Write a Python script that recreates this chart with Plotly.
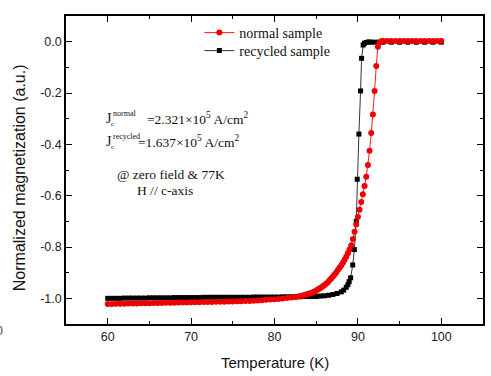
import plotly.graph_objects as go

# ---- data: normalized magnetization vs temperature ----
normal_T = [
    60.0, 60.5, 61.0, 61.5, 62.0, 62.5, 63.0, 63.5, 64.0, 64.5,
    65.0, 65.5, 66.0, 66.5, 67.0, 67.5, 68.0, 68.5, 69.0, 69.5,
    70.0, 70.5, 71.0, 71.5, 72.0, 72.5, 73.0, 73.5, 74.0, 74.5,
    75.0, 75.5, 76.0, 76.5, 77.0, 77.5, 78.0, 78.5, 79.0, 79.5,
    80.0, 80.5, 81.0, 81.5, 82.0, 82.5, 83.0,
    83.2, 83.4, 83.6, 83.8, 84.0, 84.2, 84.4, 84.6, 84.8, 85.0,
    85.2, 85.4, 85.6, 85.8, 86.0, 86.2, 86.4, 86.6, 86.8, 87.0,
    87.2, 87.4, 87.6, 87.8, 88.0, 88.2, 88.4, 88.6, 88.8, 89.0,
    89.2, 89.4, 89.6, 89.8, 90.0, 90.2, 90.4, 90.6, 90.8, 91.0,
    91.2, 91.4, 91.6, 91.8, 92.0, 92.2, 92.4, 92.6, 92.8,
    93.0, 93.5, 94.0, 94.5, 95.0, 95.5, 96.0, 96.5, 97.0, 97.5,
    98.0, 98.5, 99.0, 99.5, 100.0,
]
normal_M = [
    -1.022, -1.022, -1.021, -1.021, -1.021, -1.020, -1.020, -1.020, -1.019, -1.019,
    -1.019, -1.018, -1.018, -1.018, -1.017, -1.017, -1.017, -1.016, -1.016, -1.016,
    -1.015, -1.015, -1.015, -1.014, -1.014, -1.014, -1.013, -1.013, -1.013, -1.012,
    -1.012, -1.011, -1.011, -1.010, -1.010, -1.009, -1.008, -1.007, -1.006, -1.005,
    -1.004, -1.003, -1.001, -0.999, -0.997, -0.995, -0.992,
    -0.991, -0.989, -0.987, -0.985, -0.983, -0.981, -0.979, -0.976, -0.973, -0.970,
    -0.966, -0.962, -0.958, -0.953, -0.948, -0.943, -0.937, -0.930, -0.923, -0.915,
    -0.907, -0.899, -0.890, -0.881, -0.872, -0.861, -0.850, -0.838, -0.824, -0.810,
    -0.793, -0.769, -0.741, -0.712, -0.683, -0.655, -0.625, -0.594, -0.562, -0.526,
    -0.481, -0.425, -0.356, -0.284, -0.192, -0.095, -0.020, -0.003, 0.002,
    0.003, 0.003, 0.003, 0.003, 0.003, 0.003, 0.003, 0.003, 0.003, 0.003,
    0.003, 0.003, 0.003, 0.003, 0.003,
]

recycled_T = [
    60.0, 60.5, 61.0, 61.5, 62.0, 62.5, 63.0, 63.5, 64.0, 64.5,
    65.0, 65.5, 66.0, 66.5, 67.0, 67.5, 68.0, 68.5, 69.0, 69.5,
    70.0, 70.5, 71.0, 71.5, 72.0, 72.5, 73.0, 73.5, 74.0, 74.5,
    75.0, 75.5, 76.0, 76.5, 77.0, 77.5, 78.0, 78.5, 79.0, 79.5,
    80.0, 80.5, 81.0, 81.5, 82.0, 82.5, 83.0, 83.5, 84.0, 84.5,
    85.0, 85.5, 86.0, 86.5, 87.0, 87.5, 88.0, 88.3, 88.6, 88.8,
    88.95, 89.13, 89.38, 89.58, 89.80, 89.92, 90.12, 90.32, 90.44, 90.63,
    90.8, 91.0, 91.3, 91.6, 92.0, 92.5, 93.0, 94.0, 95.0, 96.0,
    97.0, 98.0, 99.0, 100.0,
]
recycled_M = [
    -1.000, -1.000, -1.000, -1.000, -0.999, -0.999, -0.999, -0.999, -0.999, -0.999,
    -0.998, -0.998, -0.998, -0.998, -0.998, -0.998, -0.997, -0.997, -0.997, -0.997,
    -0.997, -0.997, -0.997, -0.996, -0.996, -0.996, -0.996, -0.996, -0.996, -0.996,
    -0.996, -0.996, -0.996, -0.996, -0.996, -0.995, -0.995, -0.995, -0.995, -0.995,
    -0.995, -0.995, -0.994, -0.994, -0.994, -0.994, -0.994, -0.993, -0.993, -0.993,
    -0.993, -0.991, -0.990, -0.988, -0.985, -0.981, -0.975, -0.968, -0.957, -0.947,
    -0.935, -0.920, -0.870, -0.810, -0.700, -0.536, -0.360, -0.192, -0.065, -0.013,
    -0.006, -0.003, -0.001, -0.002, -0.002, -0.002, -0.002, -0.002, -0.002, -0.002,
    -0.002, -0.002, -0.002, -0.002,
]

x_ticks = [60, 70, 80, 90, 100]
y_ticks = [-1.0, -0.8, -0.6, -0.4, -0.2, 0.0]
y_ticklabels = ["-1.0", "-0.8", "-0.6", "-0.4", "-0.2", "0.0"]

W, H = 491, 376
ML, MR, MT, MB = 66, 6, 16, 52
PW, PH = W - ML - MR, H - MT - MB


def px(x):
    return (x - ML) / PW


def py(y):
    return (H - MB - y) / PH


SERIF = "Liberation Serif, Times New Roman, serif"
SANS = "Liberation Sans, Arial, sans-serif"
INK = "#111111"

fig = go.Figure()

fig.add_trace(go.Scatter(
    x=recycled_T, y=recycled_M, mode="lines+markers", name="recycled sample",
    line=dict(color="#333333", width=1),
    marker=dict(symbol="square", size=5, color="black"),
    legend="legend2",
))
fig.add_trace(go.Scatter(
    x=normal_T, y=normal_M, mode="lines+markers", name="normal sample",
    line=dict(color="#ff1a1a", width=1),
    marker=dict(symbol="circle", size=6, color="#ee0000"),
    legend="legend",
))

axis_common = dict(
    showline=True, linecolor="black", linewidth=1.5, mirror="allticks",
    ticks="inside", ticklen=6, tickwidth=1, tickcolor="black",
    showgrid=False, zeroline=False,
    tickfont=dict(family=SANS, size=12.5, color="#222222"),
)

fig.update_xaxes(
    range=[55, 105], tickvals=x_ticks,
    minor=dict(ticks="inside", ticklen=3, dtick=5, tick0=55, tickcolor="black", showgrid=False),
    **axis_common,
)
fig.update_yaxes(
    range=[-1.1, 0.1], tickvals=y_ticks, ticktext=y_ticklabels,
    minor=dict(ticks="inside", ticklen=3, dtick=0.1, tick0=-1.1, tickcolor="black", showgrid=False),
    **axis_common,
)

ann = []


def note(x, y, text, size, family=SERIF, anchor="left", **kw):
    ann.append(dict(x=px(x), y=py(y), xref="paper", yref="paper", text=text,
                    showarrow=False, xanchor=anchor, yanchor="middle",
                    font=dict(family=family, size=size, color=kw.pop("color", INK)), **kw))


# axis titles
note(276, 362, "Temperature (K)", 15, family=SANS, anchor="center")
note(19, 178, "Normalized magnetization (a.u.)", 16, family=SANS, anchor="center", textangle=-90)
# stray label at the lower-left edge
note(5, 331, "0", 12.5, family=SANS, anchor="right", color="#444444")


# critical current density labels
def jc_label(y, sup, rest, rest_x):
    note(104, y, "J", 14)
    note(111, y - 5, sup, 8)
    note(109, y + 6, "c", 7)
    note(rest_x, y, rest, 13.5)


jc_label(118, "normal", "=2.321×10<sup>5</sup> A/cm<sup>2</sup>", 145)
jc_label(141, "recycled", "=1.637×10<sup>5</sup> A/cm<sup>2</sup>", 136)

note(115, 175, "@ zero field &amp; 77K", 13.5)
note(135, 190, "H // c-axis", 13.5)

legend_common = dict(
    xanchor="left", yanchor="top", bgcolor="rgba(0,0,0,0)",
    font=dict(family=SERIF, size=14, color=INK), itemwidth=30,
)

fig.update_layout(
    width=W, height=H,
    margin=dict(l=ML, r=MR, t=MT, b=MB, pad=0),
    paper_bgcolor="white", plot_bgcolor="white",
    showlegend=True,
    legend=dict(x=px(200), y=py(17), **legend_common),
    legend2=dict(x=px(200), y=py(35), **legend_common),
    annotations=ann,
)

fig.write_html("out.html")
